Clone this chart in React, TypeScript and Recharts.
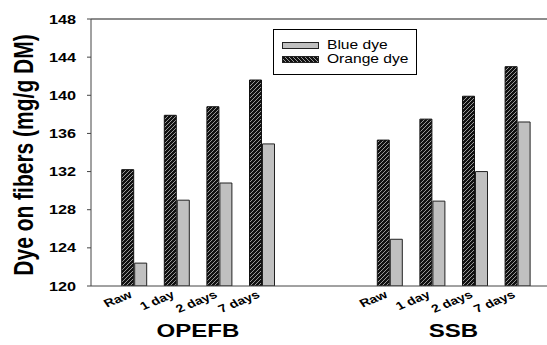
import React from "react";
import { BarChart, Bar, XAxis, YAxis, Legend, ReferenceLine } from "recharts";

// 10 slots on the x axis: 4 OPEFB, 2 empty spacers, 4 SSB
const slotLabels = ["Raw", "1 day", "2 days", "7 days", "", "", "Raw", "1 day", "2 days", "7 days"];
const orangeDye = [132.2, 137.9, 138.8, 141.6, null, null, 135.3, 137.5, 139.9, 143.0];
const blueDye = [122.4, 129.0, 130.8, 134.9, null, null, 124.9, 128.9, 132.0, 137.2];
const groupNames = ["OPEFB", "SSB"];
const groupAtSlot = [1, 7]; // group label sits between this slot and the next
const yTicks = [120, 124, 128, 132, 136, 140, 144, 148];

const data = slotLabels.map((label, i) => ({
  id: i,
  label,
  orange: orangeDye[i],
  blue: blueDye[i],
}));

const FONT = "Arial, 'Liberation Sans', sans-serif";
const SX = 1.3; // the source image is stretched horizontally

function XTick(props: any) {
  const { x, y, payload } = props;
  const i = payload.index ?? payload.value;
  const label = slotLabels[i];
  const g = groupAtSlot.indexOf(i);
  return (
    <g>
      {label && (
        <g transform={`translate(${x - 1},${y + 11}) scale(${SX},1)`}>
          <text transform="rotate(-28)" textAnchor="end" fontFamily={FONT} fontWeight="bold" fontSize={11} fill="#000">
            {label}
          </text>
        </g>
      )}
      {g >= 0 && (
        <g transform={`translate(${x + 21.3},${y + 51}) scale(${SX},1)`}>
          <text textAnchor="middle" fontFamily={FONT} fontWeight="bold" fontSize={18.5} fill="#000">
            {groupNames[g]}
          </text>
        </g>
      )}
    </g>
  );
}

function YTick(props: any) {
  const { x, y, payload } = props;
  return (
    <g transform={`translate(${x},${y}) scale(${SX},1)`}>
      <text textAnchor="end" dy="0.36em" fontFamily={FONT} fontWeight="bold" fontSize={12.5} fill="#000">
        {payload.value}
      </text>
    </g>
  );
}

function LegendBox() {
  const items = [
    { name: "Blue dye", fill: "#c0c0c0", y: 13 },
    { name: "Orange dye", fill: "url(#hatchLegend)", y: 27 },
  ];
  return (
    <svg width={145} height={47} style={{ display: "block" }}>
      <defs>
        <pattern id="hatchLegend" patternUnits="userSpaceOnUse" width={4} height={4}>
          <rect width={4} height={4} fill="#111" />
          <path d="M-1,3 l2,2 M0,0 l4,4 M3,-1 l2,2" stroke="#999" strokeWidth={1} />
        </pattern>
      </defs>
      <rect x={0.5} y={0.5} width={143} height={45} fill="#fff" stroke="#000" />
      {items.map((it) => (
        <g key={it.name}>
          <rect x={9.5} y={it.y + 0.5} width={36} height={6} fill={it.fill} stroke="#222" />
          <g transform={`translate(54,${it.y + 7}) scale(${SX},1)`}>
            <text fontFamily={FONT} fontSize={12} fill="#000">
              {it.name}
            </text>
          </g>
        </g>
      ))}
    </svg>
  );
}

export default function App() {
  return (
    <div style={{ position: "absolute", left: 0, top: 0, width: 547, height: 345, background: "#fff" }}>
      <BarChart
        width={547}
        height={345}
        data={data}
        margin={{ top: 19, right: 0, left: 0, bottom: 0 }}
        barSize={12}
        barGap={1}
      >
        <defs>
          <pattern id="hatchBar" patternUnits="userSpaceOnUse" width={4} height={4}>
            <rect width={4} height={4} fill="#111" />
            <path d="M-1,1 l2,-2 M0,4 l4,-4 M3,5 l2,-2" stroke="#999" strokeWidth={1} />
          </pattern>
        </defs>
        <XAxis
          dataKey="id"
          type="category"
          height={59}
          padding={{ left: 21.7, right: 8.3 }}
          axisLine={{ stroke: "#444" }}
          tickLine={false}
          tickSize={0}
          tickMargin={0}
          interval={0}
          tick={<XTick />}
        />
        <YAxis
          width={91}
          domain={[120, 148]}
          ticks={yTicks}
          allowDataOverflow
          axisLine={{ stroke: "#444" }}
          tickLine={{ stroke: "#444" }}
          tickSize={4}
          tickMargin={11}
          tick={<YTick />}
        />
        <ReferenceLine y={148} stroke="#666" strokeWidth={1.5} />
        <Legend
          layout="horizontal"
          verticalAlign="middle"
          align="center"
          wrapperStyle={{ left: 273, top: 29, width: 145, height: 47 }}
          content={() => <LegendBox />}
        />
        <Bar dataKey="orange" name="Orange dye" fill="url(#hatchBar)" stroke="#111" strokeWidth={1} isAnimationActive={false} />
        <Bar dataKey="blue" name="Blue dye" fill="#c0c0c0" stroke="#222" strokeWidth={1} isAnimationActive={false} />
      </BarChart>
      <svg width={60} height={345} style={{ position: "absolute", left: 0, top: 0, pointerEvents: "none" }}>
        <g transform={`translate(33,155) scale(${SX},1)`}>
          <text transform="rotate(-90)" textAnchor="middle" fontFamily={FONT} fontWeight="bold" fontSize={21} fill="#000">
            Dye on fibers (mg/g DM)
          </text>
        </g>
      </svg>
    </div>
  );
}
